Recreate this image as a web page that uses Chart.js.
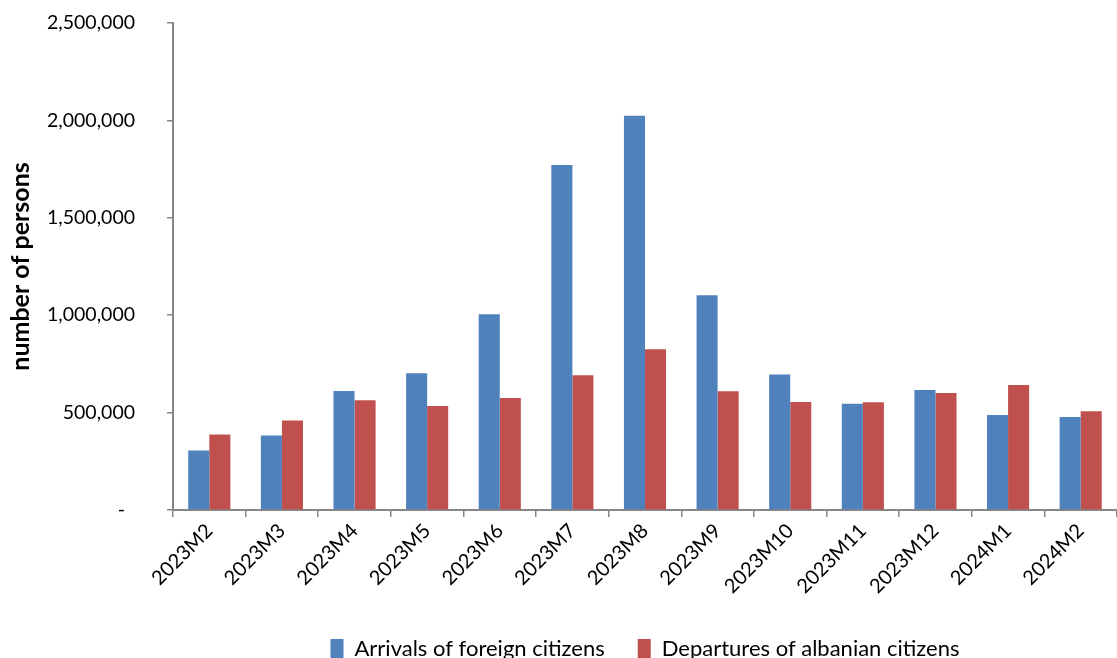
<!DOCTYPE html>
<html>
<head>
<meta charset="utf-8">
<script src="https://cdn.jsdelivr.net/npm/chart.js@4.4.1/dist/chart.umd.min.js"></script>
<style>
  html, body { margin: 0; padding: 0; background: #ffffff; }
  #wrap { width: 1117px; height: 658px; }
</style>
</head>
<body>
<div id="wrap"><canvas id="chart"></canvas></div>
<script>
const months = ['2023M2', '2023M3', '2023M4', '2023M5', '2023M6', '2023M7', '2023M8',
  '2023M9', '2023M10', '2023M11', '2023M12', '2024M1', '2024M2'];
const arrivals_foreign = [306000, 383000, 611000, 702000, 1005000, 1771000, 2024000,
  1103000, 695000, 545000, 616000, 488000, 478000];
const departures_albanian = [387000, 459000, 563000, 534000, 575000, 692000, 825000,
  610000, 555000, 553000, 601000, 642000, 507000];
const series_names = ['Arrivals of foreign citizens', 'Departures of albanian citizens'];
const y_max = 2500000;
const y_step = 500000;

const axis_gray = '#868686';
const font_family = 'Lato, "Open Sans", sans-serif';

function formatTick(v) {
  if (v === 0) return '-  ';
  return v.toLocaleString('en-US');
}

new Chart(document.getElementById('chart'), {
  type: 'bar',
  data: {
    labels: months,
    datasets: [
      {
        label: series_names[0],
        data: arrivals_foreign,
        backgroundColor: '#4f81bd',
        categoryPercentage: 0.58,
        barPercentage: 1.0
      },
      {
        label: series_names[1],
        data: departures_albanian,
        backgroundColor: '#c0504d',
        categoryPercentage: 0.58,
        barPercentage: 1.0
      }
    ]
  },
  options: {
    responsive: true,
    maintainAspectRatio: false,
    animation: false,
    layout: {
      padding: { top: 23, right: 0, left: 0, bottom: -12 }
    },
    plugins: {
      tooltip: { enabled: false },
      legend: {
        position: 'bottom',
        fullSize: false,
        labels: {
          boxWidth: 13,
          boxHeight: 20,
          padding: 33,
          color: '#000000',
          font: { family: font_family, size: 22 }
        }
      }
    },
    scales: {
      x: {
        grid: {
          display: true,
          drawOnChartArea: false,
          tickLength: 7,
          color: axis_gray,
          lineWidth: 1.5
        },
        border: { color: axis_gray, width: 2 },
        ticks: {
          minRotation: 45,
          maxRotation: 45,
          autoSkip: false,
          padding: 2,
          color: '#000000',
          font: { family: font_family, size: 20 }
        },
        afterFit: function (scale) { scale.height = 95; }
      },
      y: {
        min: 0,
        max: y_max,
        grid: {
          display: true,
          drawOnChartArea: false,
          tickLength: 6,
          color: axis_gray,
          lineWidth: 1.5
        },
        border: { color: axis_gray, width: 2 },
        ticks: {
          stepSize: y_step,
          padding: 32,
          color: '#000000',
          font: { family: font_family, size: 19.5 },
          callback: function (value) { return formatTick(value); }
        },
        title: {
          display: true,
          text: 'number of persons',
          color: '#000000',
          padding: { top: 6, bottom: 0 },
          font: { family: font_family, size: 25, weight: 'bold' }
        },
        afterFit: function (scale) {
          scale.width = 173;
          scale.paddingTop = 12;
          scale.paddingBottom = 12;
        }
      }
    }
  }
});
</script>
</body>
</html>
